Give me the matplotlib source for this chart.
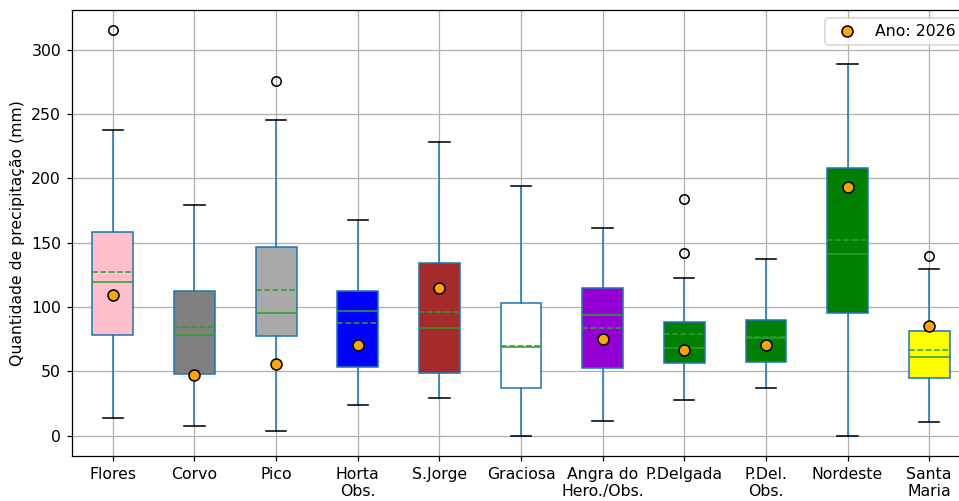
import numpy as np
import matplotlib
matplotlib.use("Agg")
import matplotlib.pyplot as plt

# estacoes e estatisticas mensais da precipitacao (mm)
estacoes = ["Flores", "Corvo", "Pico", "Horta\nObs.", "S.Jorge", "Graciosa",
            "Angra do\nHero./Obs.", "P.Delgada", "P.Del.\nObs.", "Nordeste", "Santa\nMaria"]
q1 = [78.2, 47.9, 77.2, 53.1, 48.7, 37.0, 52.6, 56.5, 57.3, 95.1, 45.1]
mediana = [119.7, 78.5, 95.3, 96.6, 83.4, 68.6, 93.5, 68.4, 75.6, 141.4, 61.4]
q3 = [158.3, 112.2, 146.9, 112.2, 133.9, 102.8, 114.5, 88.6, 89.6, 208.3, 81.1]
media = [127.5, 84.7, 113.2, 87.3, 95.8, 69.4, 83.9, 79.3, 76.4, 151.8, 66.3]
bigode_inf = [14.0, 7.5, 3.6, 24.1, 29.5, 0.0, 11.1, 28.0, 37.0, 0.0, 10.4]
bigode_sup = [237.6, 179.3, 245.3, 167.9, 228.5, 194.0, 161.3, 122.3, 137.6, 288.9, 129.8]
outliers = [[315.5], [], [275.6], [], [], [], [], [184.0, 142.0], [], [], [139.7]]
ano_2026 = [109.3, 46.9, 55.7, 70.7, 115.0, np.nan, 75.4, 66.3, 70.7, 193.3, 85.5]
cores = ["pink", "gray", "darkgray", "blue", "brown", "white",
         "darkviolet", "green", "green", "green", "yellow"]

stats = []
for i in range(len(estacoes)):
    stats.append(dict(q1=q1[i], med=mediana[i], q3=q3[i], mean=media[i],
                      whislo=bigode_inf[i], whishi=bigode_sup[i], fliers=outliers[i]))

fig = plt.figure(figsize=(959 / 113, 501 / 113), dpi=113)
# o eixo passa da margem direita da figura (fica cortado)
ax = fig.add_axes([72 / 959, 45 / 501, 898 / 959, 446 / 501])

pos = np.arange(1, len(estacoes) + 1)
bp = ax.bxp(stats, positions=pos, widths=0.5, patch_artist=True,
            showmeans=True, meanline=True,
            boxprops=dict(edgecolor="C0"),
            whiskerprops=dict(color="C0"),
            capprops=dict(color="k"),
            medianprops=dict(color="C2"),
            meanprops=dict(color="C2", linestyle="--"),
            flierprops=dict(marker="o", markerfacecolor="none", markeredgecolor="k"))
for caixa, cor in zip(bp["boxes"], cores):
    caixa.set_facecolor(cor)

ax.plot(pos, ano_2026, "o", color="orange", markeredgecolor="k",
        markersize=7, linestyle="none", zorder=4, label="Ano: 2026")

ax.set_xticks(pos)
ax.set_xticklabels(estacoes)
ax.set_xlim(0.5, len(estacoes) + 0.5)
ax.set_ylim(-15.75, 330.75)
ax.grid(True)
ax.set_axisbelow(True)
ax.spines["right"].set_visible(False)
ax.set_ylabel("Quantidade de precipitação (mm)")
ax.legend(loc="upper right")

fig.savefig("out.png", dpi=113)
